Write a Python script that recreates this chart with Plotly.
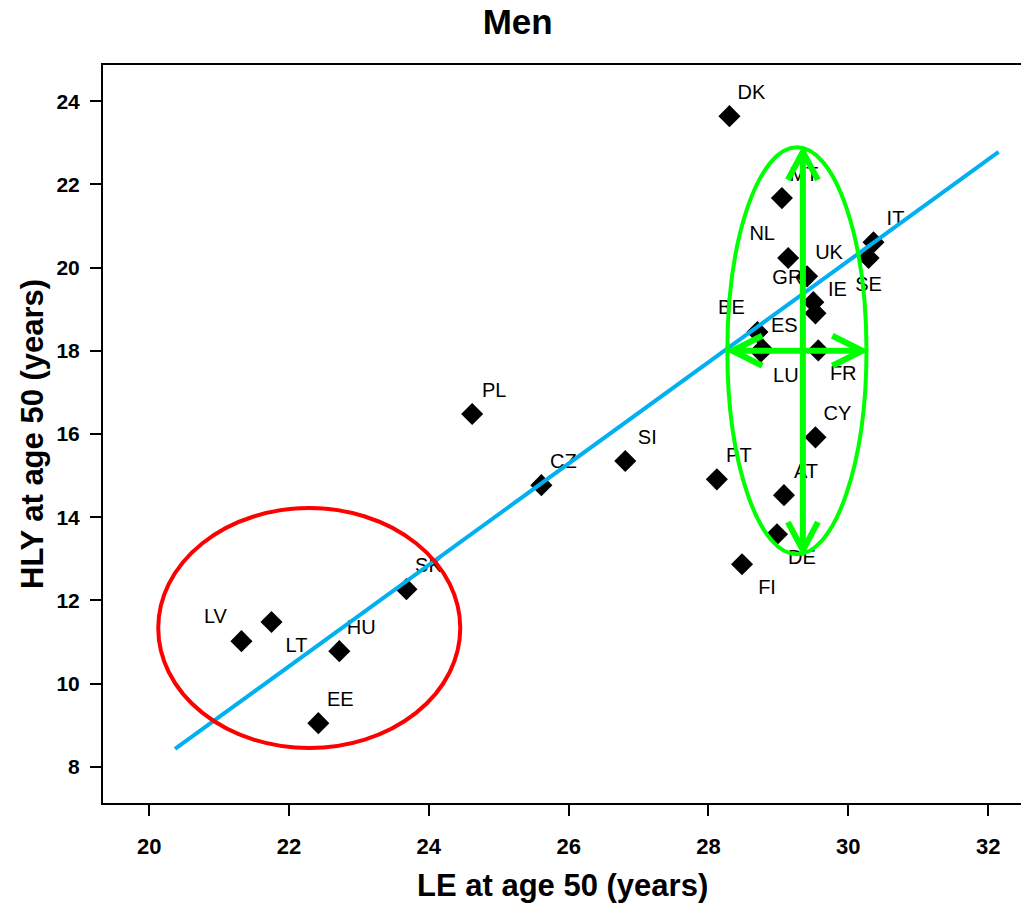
import numpy as np
import plotly.graph_objects as go

# data
countries = ['DK', 'MT', 'NL', 'UK', 'IT', 'SE', 'GR', 'IE', 'BE', 'ES', 'LU', 'FR',
             'CY', 'PT', 'AT', 'DE', 'FI', 'SI', 'CZ', 'PL', 'SK', 'LV', 'LT', 'HU', 'EE']
le_50 = [28.30, 29.05, 29.14, 29.41, 30.36, 30.29, 29.50, 29.53, 28.70, 28.77, 28.75, 29.57,
         29.53, 28.12, 29.08, 28.98, 28.48, 26.81, 25.61, 24.62, 23.68, 21.32, 21.75, 22.72, 22.42]
hly_50 = [23.64, 21.67, 20.23, 19.79, 20.61, 20.23, 19.17, 18.90, 18.45, 18.04, 17.98, 18.01,
          15.92, 14.91, 14.53, 13.59, 12.87, 15.35, 14.77, 16.48, 12.27, 11.02, 11.48, 10.78, 9.05]
# where each label sits next to its point
label_side = ['ur', 'ur', 'ul', 'ur', 'ur', 'b', 'ul', 'ur', 'ul', 'ur', 'lr', 'lr',
              'ur', 'ur', 'ur', 'lr', 'lr', 'ur', 'ur', 'ur', 'ur', 'ul', 'lr', 'ur', 'ur']

fit_x = [20.37, 32.15]
fit_y = [8.43, 22.78]

x_ticks = [20, 22, 24, 26, 28, 30, 32]
y_ticks = [8, 10, 12, 14, 16, 18, 20, 22, 24]

W, H = 1021, 905
ml, mr, mt, mb = 103, 0, 65, 102
x_range = [19.34, 32.47]
y_range = [7.13, 24.87]
px_x = (x_range[1] - x_range[0]) / (W - ml - mr)
px_y = (y_range[1] - y_range[0]) / (H - mt - mb)

shift = {'ur': (22, -22), 'ul': (-26, -23), 'lr': (25, 25), 'b': (0, 28)}
lab_x = [x + shift[s][0] * px_x for x, s in zip(le_50, label_side)]
lab_y = [y - shift[s][1] * px_y for y, s in zip(hly_50, label_side)]

FONT = 'Liberation Sans, Arial, sans-serif'
NARROW = 'Liberation Sans Narrow, Arial Narrow, Liberation Sans, sans-serif'
GREEN = '#00ff00'

fig = go.Figure()
fig.add_trace(go.Scatter(x=le_50, y=hly_50, mode='markers',
                         marker=dict(symbol='diamond', size=17, color='black')))
fig.add_trace(go.Scatter(x=lab_x, y=lab_y, mode='text', text=countries,
                         textposition='middle center',
                         textfont=dict(family=FONT, size=20, color='black')))
fig.add_trace(go.Scatter(x=fit_x, y=fit_y, mode='lines',
                         line=dict(color='#00b0f0', width=4)))

# red ellipse around the baltic / eastern group
fig.add_shape(type='circle', x0=20.13, x1=24.45, y0=8.45, y1=14.22,
              line=dict(color='#ff0000', width=4), layer='above')
# green ellipse + arrows on the western group
fig.add_shape(type='circle', x0=28.27, x1=30.26, y0=13.11, y1=22.89,
              line=dict(color=GREEN, width=4), layer='above')

vx, vy0, vy1 = 29.35, 13.21, 22.78
hy, hx0, hx1 = 18.0, 28.34, 30.20
ax_, ay_ = 15 * px_x, 28 * px_y      # vertical arrow head arms
bx_, by_ = 30 * px_x, 15 * px_y      # horizontal arrow head arms
arrows = [
    f'M{vx},{vy0} L{vx},{vy1}',
    f'M{vx - ax_},{vy1 - ay_} L{vx},{vy1} L{vx + ax_},{vy1 - ay_}',
    f'M{vx - ax_},{vy0 + ay_} L{vx},{vy0} L{vx + ax_},{vy0 + ay_}',
    f'M{hx0},{hy} L{hx1},{hy}',
    f'M{hx0 + bx_},{hy + by_} L{hx0},{hy} L{hx0 + bx_},{hy - by_}',
    f'M{hx1 - bx_},{hy + by_} L{hx1},{hy} L{hx1 - bx_},{hy - by_}',
]
for p in arrows:
    fig.add_shape(type='path', path=p, line=dict(color=GREEN, width=6), layer='above')

fig.update_layout(
    width=W, height=H,
    margin=dict(l=ml, r=mr, t=mt, b=mb),
    paper_bgcolor='white', plot_bgcolor='white',
    showlegend=False,
    font=dict(family=FONT, color='black'),
    title=dict(text='<b>Men</b>', x=0.507, xanchor='center', y=0.976, yanchor='middle',
               font=dict(size=35, family=FONT, color='black')),
)
fig.update_xaxes(range=x_range, tickvals=x_ticks, showgrid=False, zeroline=False,
                 showline=True, linecolor='black', linewidth=2, mirror=True,
                 ticks='outside', ticklen=11, tickwidth=2, tickcolor='black',
                 ticklabelstandoff=12,
                 tickfont=dict(size=22, family=NARROW, color='black', weight='bold'))
fig.update_yaxes(range=y_range, tickvals=y_ticks, showgrid=False, zeroline=False,
                 showline=True, linecolor='black', linewidth=2,
                 ticks='outside', ticklen=11, tickwidth=2, tickcolor='black',
                 ticklabelstandoff=6,
                 tickfont=dict(size=21, family=FONT, color='black', weight='bold'))

fig.add_annotation(text='<b>LE at age 50 (years)</b>', xref='paper', yref='paper',
                   x=0.5, y=-(885 - 803) / (H - mt - mb), showarrow=False,
                   xanchor='center', yanchor='middle', font=dict(size=31, family=FONT))
fig.add_annotation(text='<b>HLY at age 50 (years)</b>', xref='paper', yref='paper',
                   x=(32 - ml) / (W - ml - mr), y=0.5, textangle=-90, showarrow=False,
                   xanchor='center', yanchor='middle', font=dict(size=31, family=FONT))

fig.write_html('out.html', config={'displayModeBar': False},
               post_script="document.body.style.margin='0';document.body.style.overflow='hidden';")
